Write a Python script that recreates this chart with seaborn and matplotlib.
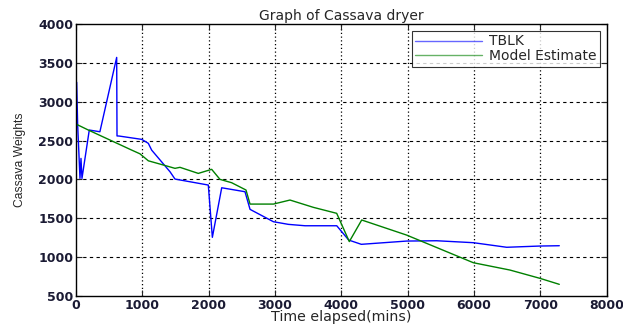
import matplotlib
matplotlib.use("Agg")
import matplotlib.pyplot as plt
import seaborn as sns
import pandas as pd

# Data
tblk_time = [0, 0, 10, 25, 60, 75, 90, 200, 360, 613, 618, 648, 990, 1090, 1140, 1417,
             1492, 1994, 2055, 2196, 2547, 2623, 2975, 3200, 3452, 3930, 4110, 4300,
             4983, 5436, 5989, 6491, 6993, 7284]
tblk_weight = [3500, 3250, 3250, 2700, 2014, 2271, 2014, 2636, 2614, 3571, 2560, 2559, 2516,
               2465, 2378, 2099, 2005, 1928, 1255, 1893, 1842, 1615, 1456, 1422, 1404,
               1404, 1220, 1165, 1207, 1211, 1186, 1127, 1143, 1147]

model_time = [0, 186, 839, 964, 1090, 1266, 1492, 1567, 1843, 2045, 2170, 2346, 2562,
              2623, 2975, 3225, 3577, 3929, 4119, 4306, 4983, 5989, 6540, 6993, 7284]
model_weight = [2713, 2636, 2378, 2330, 2240, 2198, 2143, 2156, 2078, 2130, 2001, 1958,
                1864, 1683, 1683, 1735, 1641, 1564, 1200, 1478, 1284, 928, 834, 727, 650]

x_ticks = [0, 1000, 2000, 3000, 4000, 5000, 6000, 7000, 8000]
y_ticks = [500, 1000, 1500, 2000, 2500, 3000, 3500, 4000]

sns.set_style("white")
plt.rcParams['font.family'] = ['DejaVu Sans']

fig = plt.figure(figsize=(6.23, 3.28), dpi=100)
ax = fig.add_axes([0.122, 0.0976, 0.852, 0.829])

df1 = pd.DataFrame({"t": tblk_time, "w": tblk_weight})
df2 = pd.DataFrame({"t": model_time, "w": model_weight})
sns.lineplot(data=df1, x="t", y="w", ax=ax, sort=False, estimator=None,
             color="#0000ff", linewidth=1.0, label="TBLK")
sns.lineplot(data=df2, x="t", y="w", ax=ax, sort=False, estimator=None,
             color="#008000", linewidth=1.0, label="Model Estimate")

ax.set_xlim(0, 8000)
ax.set_ylim(500, 4000)
ax.set_xticks(x_ticks)
ax.set_yticks(y_ticks)
ax.set_xticklabels([str(v) for v in x_ticks], fontsize=9, fontweight="bold", color="#1a1a33")
ax.set_yticklabels([str(v) for v in y_ticks], fontsize=9, fontweight="bold", color="#1a1a33")

for v in x_ticks[1:-1]:
    ax.axvline(v, color="black", linestyle=(0, (1, 2)), linewidth=0.9, zorder=0)
for v in y_ticks[1:-1]:
    ax.axhline(v, color="black", linestyle=(0, (3, 3)), linewidth=0.8, zorder=0)

ax.tick_params(direction="in", length=4, width=0.8, top=True, right=True,
               bottom=True, left=True, pad=2)
for s in ax.spines.values():
    s.set_visible(True)
    s.set_color("black")
    s.set_linewidth(1.0)

ax.set_title("Graph of Cassava dryer", fontsize=10, pad=3)
ax.set_xlabel("Time elapsed(mins)", fontsize=10.2, labelpad=-1)
ax.set_ylabel("Cassava Weights", fontsize=8.7, labelpad=9,
              family=['Liberation Sans', 'DejaVu Sans'])

leg = ax.legend(loc="upper right", fontsize=10, frameon=True, fancybox=False,
                edgecolor="black", borderpad=0.25, handlelength=4.8, handletextpad=0.5,
                labelspacing=0.05, borderaxespad=0.5)
leg.get_frame().set_linewidth(0.8)
for line in leg.get_lines():
    line.set_alpha(0.6)

fig.savefig("out.png", dpi=100, facecolor="white")
